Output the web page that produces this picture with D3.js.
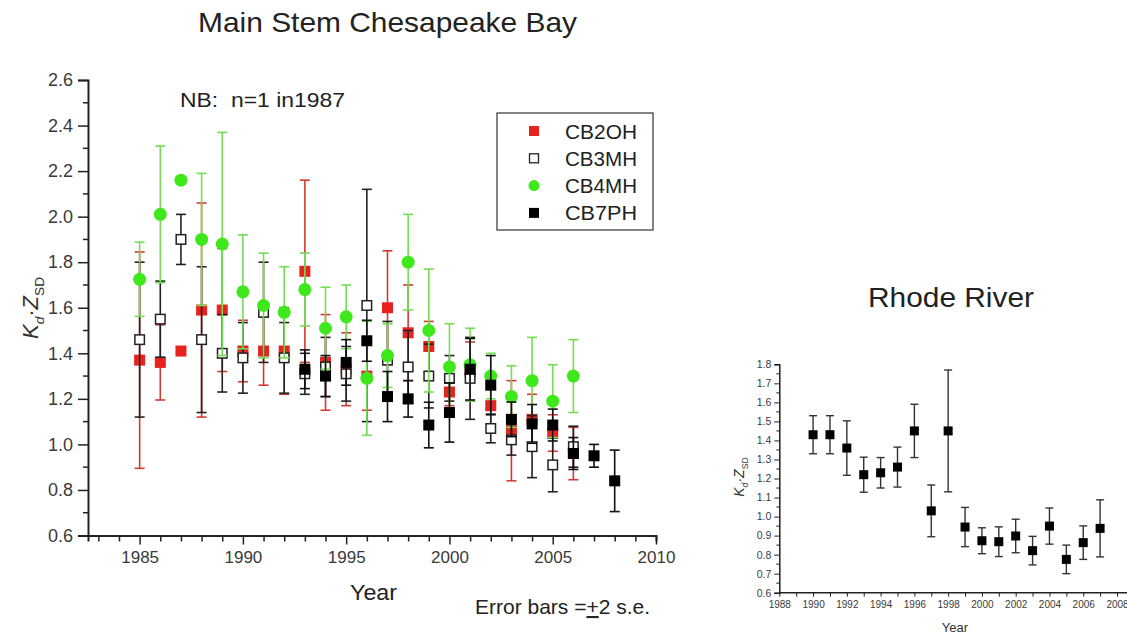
<!DOCTYPE html>
<html>
<head>
<meta charset="utf-8">
<script src="https://cdn.jsdelivr.net/npm/d3@7"></script>
<style>
  body { margin: 0; background: #fff; }
  svg { font-family: "Liberation Sans", Arial, sans-serif; }
  .axis path, .axis line { stroke: #222; }
  .axis text { fill: #3a3a3a; }
</style>
</head>
<body>
<svg width="1127" height="636"></svg>
<script>
// ---- data: Main Stem Chesapeake Bay (Kd*Zsd, error = 2 s.e.)
const mainYears = d3.range(1985, 2009);
const cb2ohVals = [1.37, 1.36, 1.41, 1.59, 1.59, 1.41, 1.41, 1.41, 1.76, 1.36, 1.33, 1.30, 1.60, 1.49, 1.43, 1.23, 1.32, 1.17, 1.06, 1.11, 1.05, 0.96, null, null];
const cb2ohErr  = [0.475, 0.165, null, 0.47, 0.27, 0.135, 0.15, 0.19, 0.40, 0.21, 0.16, 0.15, 0.25, 0.21, 0.11, 0.06, 0.13, 0.08, 0.22, 0.11, 0.08, 0.115, null, null];
const cb3mhVals = [1.46, 1.55, 1.90, 1.46, 1.40, 1.38, 1.58, 1.38, 1.31, 1.34, 1.31, 1.61, 1.37, 1.34, 1.30, 1.29, 1.29, 1.07, 1.02, 0.99, 0.91, 0.99, null, null];
const cb3mhErr  = [0.34, 0.167, 0.11, 0.32, 0.17, 0.155, 0.22, 0.155, 0.09, 0.13, 0.12, 0.51, 0.17, 0.16, 0.14, 0.10, 0.18, 0.063, 0.067, 0.136, 0.118, 0.09, null, null];
const cb4mhVals = [1.725, 2.01, 2.16, 1.90, 1.88, 1.67, 1.61, 1.58, 1.68, 1.51, 1.56, 1.29, 1.39, 1.80, 1.50, 1.34, 1.35, 1.30, 1.21, 1.28, 1.19, 1.30, null, null];
const cb4mhErr  = [0.163, 0.30, null, 0.29, 0.49, 0.25, 0.23, 0.20, 0.16, 0.18, 0.14, 0.25, 0.14, 0.21, 0.27, 0.19, 0.16, 0.10, 0.135, 0.19, 0.16, 0.16, null, null];
const cb7phVals = [null, null, null, null, null, null, null, null, 1.33, 1.30, 1.36, 1.455, 1.21, 1.20, 1.085, 1.14, 1.33, 1.26, 1.11, 1.09, 1.085, 0.96, 0.95, 0.84];
const cb7phErr  = [null, null, null, null, null, null, null, null, 0.085, 0.09, 0.10, 0.09, 0.11, 0.08, 0.10, 0.13, 0.135, 0.13, 0.076, 0.085, 0.07, 0.07, 0.05, 0.135];
const mainYTicks = [0.6, 0.8, 1.0, 1.2, 1.4, 1.6, 1.8, 2.0, 2.2, 2.4, 2.6];

// ---- data: Rhode River
const rhodeYears = d3.range(1990, 2008);
const rhodeVals = [1.43, 1.43, 1.36, 1.22, 1.23, 1.26, 1.45, 1.03, 1.45, 0.945, 0.873, 0.868, 0.898, 0.821, 0.950, 0.775, 0.863, 0.938];
const rhodeErr  = [0.10, 0.10, 0.143, 0.092, 0.08, 0.105, 0.14, 0.136, 0.32, 0.103, 0.068, 0.078, 0.088, 0.075, 0.095, 0.075, 0.088, 0.15];

const svg = d3.select("svg");

const series = [
  { name: "CB2OH", vals: cb2ohVals, err: cb2ohErr, shape: "square", fill: "#e8231f", stroke: "none", bar: "#d43a34" },
  { name: "CB3MH", vals: cb3mhVals, err: cb3mhErr, shape: "square", fill: "#fff", stroke: "#222", bar: "#222" },
  { name: "CB4MH", vals: cb4mhVals, err: cb4mhErr, shape: "circle", fill: "#3ee81a", stroke: "none", bar: "#72dd55" },
  { name: "CB7PH", vals: cb7phVals, err: cb7phErr, shape: "square", fill: "#000", stroke: "none", bar: "#111" }
];

// ---------- main chart
const x = d3.scaleLinear().domain([1982.5, 2010]).range([88, 656]);
const y = d3.scaleLinear().domain([0.6, 2.6]).range([535.5, 80]);

const xAxisG = svg.append("g").attr("class", "axis")
  .attr("transform", `translate(0,${y(0.6)})`)
  .call(d3.axisBottom(x).tickValues(d3.range(1983, 2011)).tickSize(6).tickPadding(9)
    .tickFormat((d) => (d % 5 === 0 ? d : "")));
xAxisG.select(".domain").attr("stroke-width", 2);
xAxisG.selectAll(".tick line").attr("stroke-width", 1.5)
  .attr("y2", (d) => (d % 5 === 0 ? 9 : 6));
xAxisG.selectAll("text").attr("font-size", 17);

const yAxisG = svg.append("g").attr("class", "axis")
  .attr("transform", `translate(${x(1982.5)},0)`)
  .call(d3.axisLeft(y).tickValues(mainYTicks).tickSize(10).tickPadding(5).tickFormat(d3.format(".1f")));
yAxisG.select(".domain").attr("stroke-width", 2);
yAxisG.selectAll(".tick line").attr("stroke-width", 1.5);
yAxisG.selectAll("text").attr("font-size", 18);
// minor ticks
svg.append("g").selectAll("line")
  .data(d3.range(0.7, 2.6, 0.2))
  .join("line")
  .attr("x1", x(1982.5) - 5).attr("x2", x(1982.5))
  .attr("y1", (d) => y(d)).attr("y2", (d) => y(d))
  .attr("stroke", "#222").attr("stroke-width", 1.5);

const capW = 5;
series.forEach((s) => {
  const pts = mainYears.map((yr, i) => ({ yr, v: s.vals[i], e: s.err[i] })).filter((d) => d.v != null);
  const g = svg.append("g");
  const eb = pts.filter((d) => d.e != null);
  g.selectAll("line.bar").data(eb).join("line").attr("class", "bar")
    .attr("x1", (d) => x(d.yr)).attr("x2", (d) => x(d.yr))
    .attr("y1", (d) => y(d.v - d.e)).attr("y2", (d) => y(d.v + d.e))
    .attr("stroke", s.bar).attr("stroke-width", 1.6);
  ["lo", "hi"].forEach((k) => {
    g.selectAll("line.cap" + k).data(eb).join("line").attr("class", "cap" + k)
      .attr("x1", (d) => x(d.yr) - capW).attr("x2", (d) => x(d.yr) + capW)
      .attr("y1", (d) => y(k === "lo" ? d.v - d.e : d.v + d.e))
      .attr("y2", (d) => y(k === "lo" ? d.v - d.e : d.v + d.e))
      .attr("stroke", s.bar).attr("stroke-width", 1.6);
  });
  if (s.shape === "circle") {
    g.selectAll("circle").data(pts).join("circle")
      .attr("cx", (d) => x(d.yr)).attr("cy", (d) => y(d.v)).attr("r", 6.5)
      .attr("fill", s.fill);
  } else {
    const sz = s.stroke === "none" ? 11 : 9.5;
    g.selectAll("rect").data(pts).join("rect")
      .attr("x", (d) => x(d.yr) - sz / 2).attr("y", (d) => y(d.v) - sz / 2)
      .attr("width", sz).attr("height", sz)
      .attr("fill", s.fill).attr("stroke", s.stroke).attr("stroke-width", 1.5);
  }
});

// legend
const leg = svg.append("g");
leg.append("rect").attr("x", 497).attr("y", 113).attr("width", 156).attr("height", 117)
  .attr("fill", "#fff").attr("stroke", "#333").attr("stroke-width", 1.2);
series.forEach((s, i) => {
  const ly = 131 + i * 27.3;
  if (s.shape === "circle") {
    leg.append("circle").attr("cx", 534).attr("cy", ly).attr("r", 5.5).attr("fill", s.fill);
  } else {
    const sz = s.stroke === "none" ? 10 : 9;
    leg.append("rect").attr("x", 534 - sz / 2).attr("y", ly - sz / 2).attr("width", sz).attr("height", sz)
      .attr("fill", s.fill).attr("stroke", s.stroke).attr("stroke-width", 1.3);
  }
  leg.append("text").attr("x", 565).attr("y", ly + 7.5).attr("font-size", 21)
    .attr("textLength", 72).attr("lengthAdjust", "spacingAndGlyphs")
    .attr("fill", "#222").text(s.name);
});

// texts
svg.append("text").attr("x", 198).attr("y", 32)
  .attr("font-size", 28).attr("textLength", 379).attr("lengthAdjust", "spacingAndGlyphs")
  .attr("fill", "#222").text("Main Stem Chesapeake Bay");
svg.append("text").attr("x", 180).attr("y", 107).attr("font-size", 20)
  .attr("textLength", 165).attr("lengthAdjust", "spacingAndGlyphs").attr("fill", "#222")
  .attr("xml:space", "preserve").text("NB:  n=1 in1987");
svg.append("text").attr("x", 350).attr("y", 600)
  .attr("font-size", 22).attr("textLength", 47).attr("lengthAdjust", "spacingAndGlyphs")
  .attr("fill", "#222").text("Year");
const eb = svg.append("text").attr("x", 475).attr("y", 614).attr("font-size", 21).attr("fill", "#222");
eb.append("tspan").text("Error bars =");
eb.append("tspan").attr("text-decoration", "underline").text("+");
eb.append("tspan").text("2 s.e.");

function kdLabel(g, cx, cy, fs) {
  const t = g.append("text").attr("transform", `translate(${cx},${cy}) rotate(-90)`)
    .attr("text-anchor", "middle").attr("font-size", fs).attr("fill", "#333");
  t.append("tspan").attr("font-style", "italic").text("K");
  t.append("tspan").attr("font-style", "italic").attr("font-size", fs * 0.62).attr("dy", fs * 0.25).text("d");
  t.append("tspan").attr("dy", -fs * 0.25).text("·");
  t.append("tspan").attr("font-style", "italic").text("Z");
  t.append("tspan").attr("font-size", fs * 0.62).attr("dy", fs * 0.25).text("SD");
}
kdLabel(svg, 38, 308, 22);

// ---------- Rhode River chart
const rx = d3.scaleLinear().domain([1988, 2008]).range([779.3, 1117]);
const ry = d3.scaleLinear().domain([0.6, 1.8]).range([592.7, 364.3]);

const rxAxis = svg.append("g").attr("class", "axis")
  .attr("transform", `translate(0,${ry(0.6)})`)
  .call(d3.axisBottom(rx).tickValues(d3.range(1988, 2009)).tickSize(4).tickPadding(4)
    .tickFormat((d) => (d % 2 === 0 ? d : "")));
rxAxis.select(".domain").attr("d", `M${rx(1988)},0H1127`).attr("stroke-width", 1.5);
rxAxis.selectAll("text").attr("font-size", 10);

const ryAxis = svg.append("g").attr("class", "axis")
  .attr("transform", `translate(${rx(1988)},0)`)
  .call(d3.axisLeft(ry).tickValues(d3.range(0.6, 1.81, 0.1)).tickSize(5).tickPadding(3).tickFormat(d3.format(".1f")));
ryAxis.select(".domain").attr("stroke-width", 1.5);
ryAxis.selectAll("text").attr("font-size", 10.5);
svg.append("g").selectAll("line")
  .data(d3.range(0.65, 1.8, 0.1))
  .join("line")
  .attr("x1", rx(1988) - 3).attr("x2", rx(1988))
  .attr("y1", (d) => ry(d)).attr("y2", (d) => ry(d))
  .attr("stroke", "#222").attr("stroke-width", 1);

const rpts = rhodeYears.map((yr, i) => ({ yr, v: rhodeVals[i], e: rhodeErr[i] }));
const rg = svg.append("g");
rg.selectAll("line.bar").data(rpts).join("line").attr("class", "bar")
  .attr("x1", (d) => rx(d.yr)).attr("x2", (d) => rx(d.yr))
  .attr("y1", (d) => ry(d.v - d.e)).attr("y2", (d) => ry(d.v + d.e))
  .attr("stroke", "#333").attr("stroke-width", 1.4);
["lo", "hi"].forEach((k) => {
  rg.selectAll("line.cap" + k).data(rpts).join("line").attr("class", "cap" + k)
    .attr("x1", (d) => rx(d.yr) - 4).attr("x2", (d) => rx(d.yr) + 4)
    .attr("y1", (d) => ry(k === "lo" ? d.v - d.e : d.v + d.e))
    .attr("y2", (d) => ry(k === "lo" ? d.v - d.e : d.v + d.e))
    .attr("stroke", "#333").attr("stroke-width", 1.4);
});
rg.selectAll("rect").data(rpts).join("rect")
  .attr("x", (d) => rx(d.yr) - 4.5).attr("y", (d) => ry(d.v) - 4.5)
  .attr("width", 9).attr("height", 9).attr("fill", "#000");

svg.append("text").attr("x", 868).attr("y", 307)
  .attr("font-size", 27).attr("textLength", 166).attr("lengthAdjust", "spacingAndGlyphs")
  .attr("fill", "#222").text("Rhode River");
svg.append("text").attr("x", 955).attr("y", 632).attr("text-anchor", "middle")
  .attr("font-size", 13).attr("fill", "#333").text("Year");
kdLabel(svg, 744, 477, 14);
</script>
</body>
</html>
